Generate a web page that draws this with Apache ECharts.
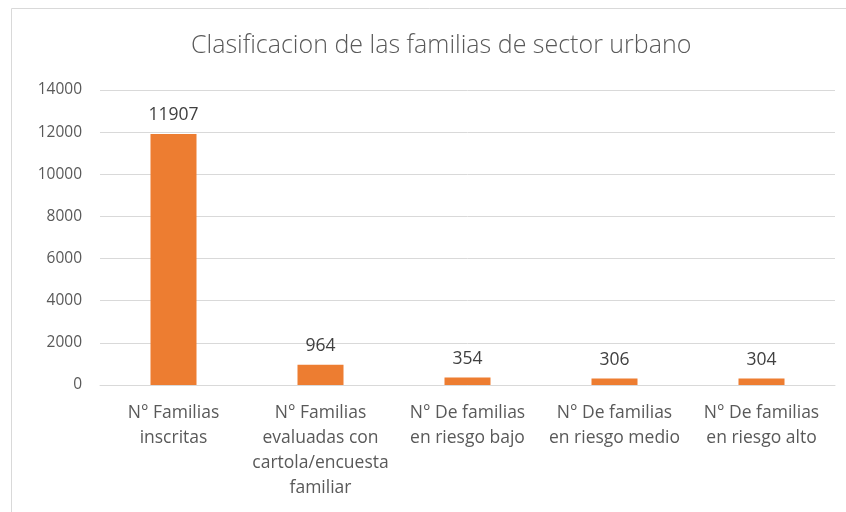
<!DOCTYPE html>
<html>
<head>
<meta charset="utf-8">
<script src="https://cdn.jsdelivr.net/npm/echarts@6/dist/echarts.min.js"></script>
<style>
html, body { margin: 0; padding: 0; background: #fff; }
#chart { width: 846px; height: 512px; }
</style>
</head>
<body>
<div id="chart"></div>
<script>
var titulo = "Clasificacion de las familias de sector urbano";
var categorias = [
	"N° Familias\ninscritas",
	"N° Familias\nevaluadas con\ncartola/encuesta\nfamiliar",
	"N° De familias\nen riesgo bajo",
	"N° De familias\nen riesgo medio",
	"N° De familias\nen riesgo alto"
];
var valores = [11907, 964, 354, 306, 304];
var ejeMax = 14000;
var ejePaso = 2000;

var fuente = "'Open Sans', 'Noto Sans', sans-serif";
var g = echarts.init(document.getElementById("chart"));
var option = {
	animation: false,
	textStyle: { fontFamily: fuente },
	title: {
		text: titulo,
		left: 186,
		top: 28,
		textStyle: { fontSize: 25, fontWeight: 300, color: "#595959", fontFamily: fuente }
	},
	graphic: [{
		type: "rect",
		shape: { x: 11.5, y: 8.5, width: 900, height: 600 },
		style: { fill: "none", stroke: "#d9d9d9", lineWidth: 1 },
		silent: true
	}],
	grid: { left: 100, right: 11, top: 90, bottom: 127 },
	xAxis: {
		type: "category",
		data: categorias,
		axisLine: { lineStyle: { color: "#d9d9d9" } },
		axisTick: { show: false },
		axisLabel: { color: "#595959", fontSize: 17.5, lineHeight: 25, margin: 16, interval: 0 }
	},
	yAxis: {
		type: "value",
		min: 0,
		max: ejeMax,
		interval: ejePaso,
		axisLine: { show: false },
		axisTick: { show: false },
		splitLine: { lineStyle: { color: "#d9d9d9" } },
		axisLabel: {
			color: "#595959", fontSize: 15.5, margin: 18,
			formatter: function(v) { return String(v); }
		}
	},
	series: [{
		type: "bar",
		data: valores,
		barWidth: 46,
		itemStyle: { color: "#ed7d31" },
		label: { show: true, position: "top", distance: 10, color: "#404040", fontSize: 17.5 }
	}]
};
g.setOption(option);
</script>
</body>
</html>
